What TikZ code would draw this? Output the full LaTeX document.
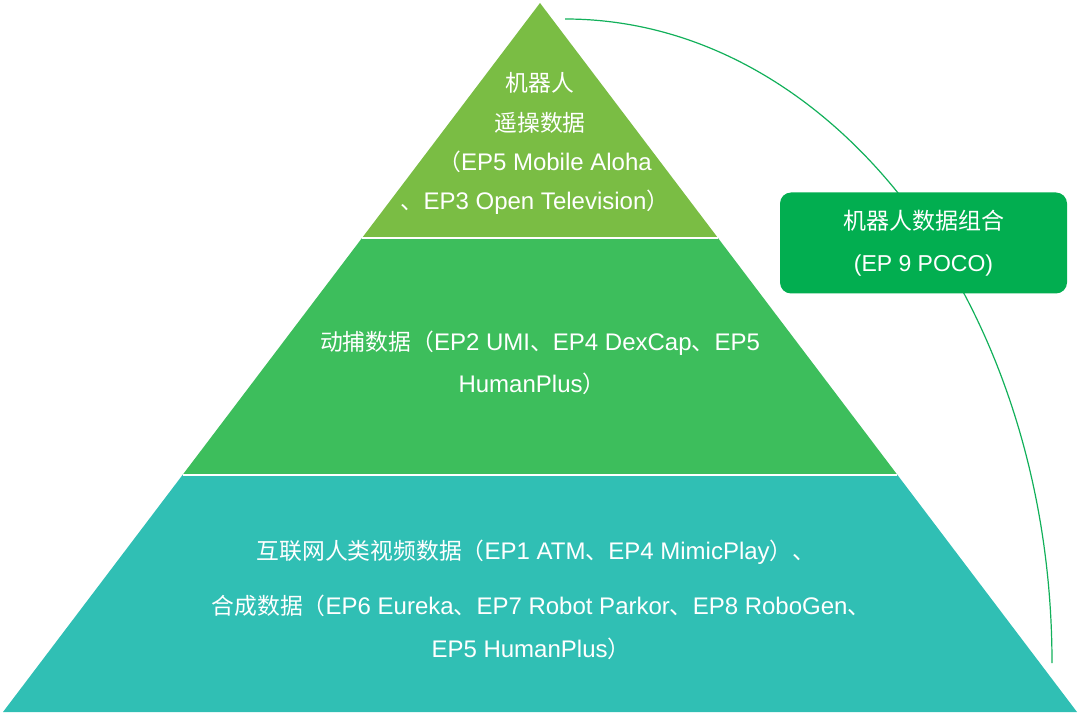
\documentclass[tikz,border=0pt]{standalone}
\usepackage{fontspec}
\setmainfont{Liberation Sans}
\newfontfamily\cjk[Scale=0.95]{Noto Sans CJK SC}
\newfontfamily\cjkbox{Noto Sans CJK SC}
\newcommand\zh[1]{{\cjk #1}}
\usetikzlibrary{calc}
\definecolor{tiertop}{RGB}{122,189,68}
\definecolor{tiermid}{RGB}{61,190,92}
\definecolor{tierbot}{RGB}{48,191,180}
\definecolor{combo}{RGB}{2,174,80}
\definecolor{arcline}{RGB}{18,176,90}
\tikzset{
  lbl/.style={text=white, inner sep=0pt, font=\fontsize{24}{28}\selectfont},
  combobox/.style={fill=combo, rounded corners=11pt, minimum width=287pt,
    minimum height=101pt, inner sep=0pt, text=white, align=center,
    font=\fontsize{23}{42}\selectfont},
  sep/.style={white, line width=2pt},
  arcconn/.style={arcline, line width=1.2pt}
}
\begin{document}
\begin{tikzpicture}[x=1pt,y=-1pt]
\useasboundingbox (0,0) rectangle (1080,714);
% outline of the pyramid
\coordinate (apex) at (540,3);
\coordinate (bl) at (3,712);
\coordinate (br) at (1077,712);
\coordinate (l1) at ($(apex)!0.3315!(bl)$);
\coordinate (r1) at ($(apex)!0.3315!(br)$);
\coordinate (l2) at ($(apex)!0.6657!(bl)$);
\coordinate (r2) at ($(apex)!0.6657!(br)$);
% three tiers
\fill[tiertop] (apex) -- (l1) -- (r1) -- cycle;
\fill[tiermid] (l1) -- (l2) -- (r2) -- (r1) -- cycle;
\fill[tierbot] (l2) -- (bl) -- (br) -- (r2) -- cycle;
\draw[sep] (l1) -- (r1);
\draw[sep] (l2) -- (r2);
% top tier text
\node[lbl] (t1) at (540,83) {\zh{机器人}};
\node[lbl] (t2) at (540,123) {\zh{遥操数据}};
\node[lbl] (t3) at (545,162) {\zh{（}EP5 Mobile Aloha};
\node[lbl] (t4) at (535,202) {\zh{、}EP3 Open Television\zh{）}};
% middle tier text
\node[lbl] (m1) at (540,343) {\zh{动捕数据（}EP2 UMI\zh{、}EP4 DexCap\zh{、}EP5};
\node[lbl] (m2) at (532,384) {HumanPlus\zh{）}};
% bottom tier text
\node[lbl] (b1) at (536,552) {\zh{互联网人类视频数据（}EP1 ATM\zh{、}EP4 MimicPlay\zh{）、}};
\node[lbl] (b2) at (541,606) {\zh{合成数据（}EP6 Eureka\zh{、}EP7 Robot Parkor\zh{、}EP8 RoboGen\zh{、}};
\node[lbl] (b3) at (531,649) {EP5 HumanPlus\zh{）}};
% arc linking all tiers, with the combination box on top
\coordinate (arcS) at (565,19);
\coordinate (arcE) at (1052,663);
\draw[arcconn] (arcS) .. controls (834,19) and (1052,307) .. (arcE);
\node[combobox] (combo) at (923.5,243) {{\cjkbox 机器人数据组合}\\(EP 9 POCO)};
\end{tikzpicture}
\end{document}
